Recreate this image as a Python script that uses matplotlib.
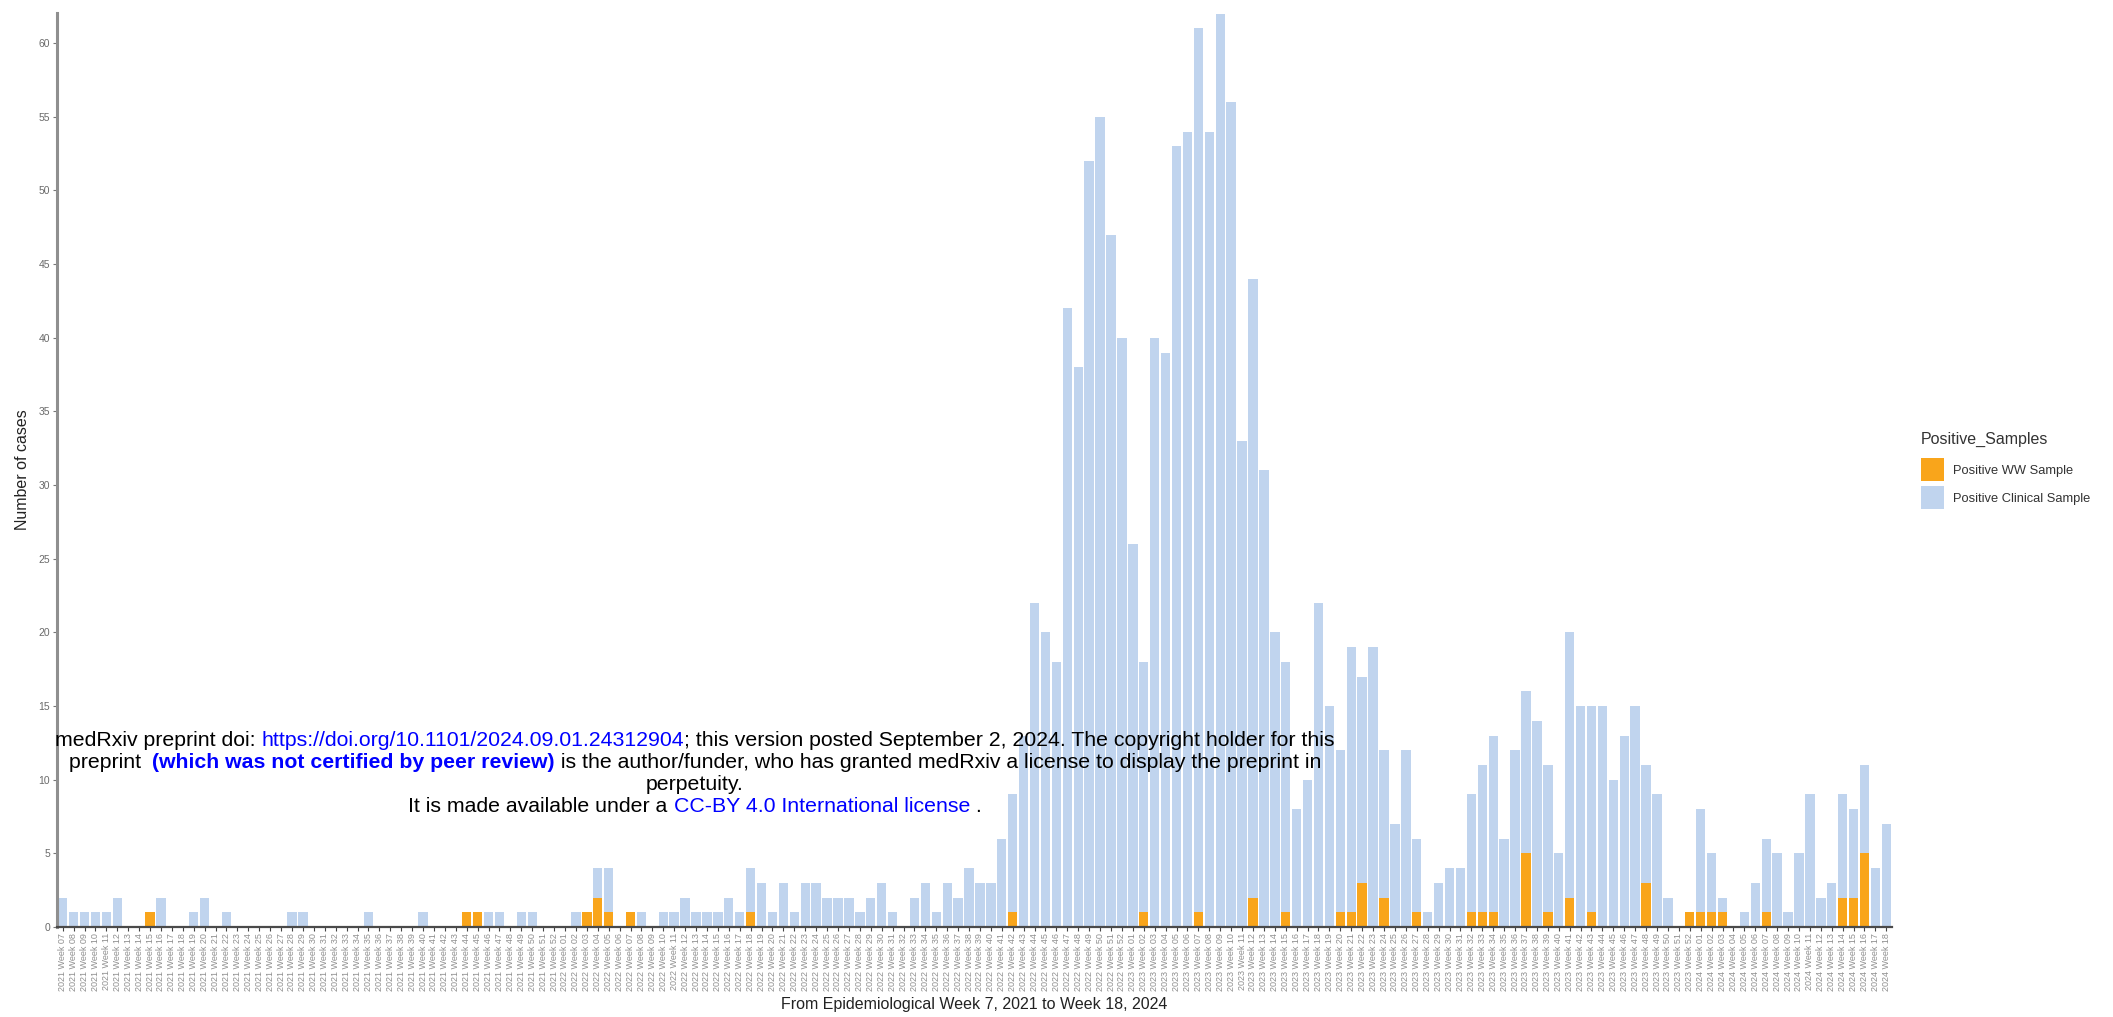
import matplotlib
matplotlib.use("Agg")
import matplotlib.pyplot as plt
from matplotlib.patches import Patch
from matplotlib.offsetbox import TextArea, HPacker, AnnotationBbox

plt.rcParams['font.family'] = ['Liberation Sans', 'DejaVu Sans']

# ---------------- data ----------------
years = [2021] * 46 + [2022] * 52 + [2023] * 52 + [2024] * 18
weeks = list(range(7, 53)) + list(range(1, 53)) + list(range(1, 53)) + list(range(1, 19))
week_labels = [f"{y} Week {w:02d}" for y, w in zip(years, weeks)]

ww_positive = [
    0, 0, 0, 0, 0, 0, 0, 0, 1, 0,
    0, 0, 0, 0, 0, 0, 0, 0, 0, 0,
    0, 0, 0, 0, 0, 0, 0, 0, 0, 0,
    0, 0, 0, 0, 0, 0, 0, 1, 1, 0,
    0, 0, 0, 0, 0, 0, 0, 0, 1, 2,
    1, 0, 1, 0, 0, 0, 0, 0, 0, 0,
    0, 0, 0, 1, 0, 0, 0, 0, 0, 0,
    0, 0, 0, 0, 0, 0, 0, 0, 0, 0,
    0, 0, 0, 0, 0, 0, 0, 1, 0, 0,
    0, 0, 0, 0, 0, 0, 0, 0, 0, 1,
    0, 0, 0, 0, 1, 0, 0, 0, 0, 2,
    0, 0, 1, 0, 0, 0, 0, 1, 1, 3,
    0, 2, 0, 0, 1, 0, 0, 0, 0, 1,
    1, 1, 0, 0, 5, 0, 1, 0, 2, 0,
    1, 0, 0, 0, 0, 3, 0, 0, 0, 1,
    1, 1, 1, 0, 0, 0, 1, 0, 0, 0,
    0, 0, 0, 2, 2, 5, 0, 0,
]

clinical_positive = [
    2, 1, 1, 1, 1, 2, 0, 0, 0, 2,
    0, 0, 1, 2, 0, 1, 0, 0, 0, 0,
    0, 1, 1, 0, 0, 0, 0, 0, 1, 0,
    0, 0, 0, 1, 0, 0, 0, 0, 0, 1,
    1, 0, 1, 1, 0, 0, 0, 1, 0, 2,
    3, 0, 0, 1, 0, 1, 1, 2, 1, 1,
    1, 2, 1, 3, 3, 1, 3, 1, 3, 3,
    2, 2, 2, 1, 2, 3, 1, 0, 2, 3,
    1, 3, 2, 4, 3, 3, 6, 8, 13, 22,
    20, 18, 42, 38, 52, 55, 47, 40, 26, 17,
    40, 39, 53, 54, 60, 54, 62, 56, 33, 42,
    31, 20, 17, 8, 10, 22, 15, 11, 18, 14,
    19, 10, 7, 12, 5, 1, 3, 4, 4, 8,
    10, 12, 6, 12, 11, 14, 10, 5, 18, 15,
    14, 15, 10, 13, 15, 8, 9, 2, 0, 0,
    7, 4, 1, 0, 1, 3, 5, 5, 1, 5,
    9, 2, 3, 7, 6, 6, 4, 7,
]

series_names = ["Positive WW Sample", "Positive Clinical Sample"]
y_ticks = list(range(0, 61, 5))

# ---------------- style ----------------
C_WW = "#F9A51B"
C_CLIN = "#C0D4EE"

W, H = 2113, 1017
fig = plt.figure(figsize=(W / 100, H / 100), dpi=100)
ax = fig.add_axes([57.2 / W, 90 / H, 1834.6 / W, 914 / H])

x = list(range(len(week_labels)))
ax.bar(x, ww_positive, width=0.86, color=C_WW, linewidth=0, zorder=2)
ax.bar(x, clinical_positive, bottom=ww_positive, width=0.86, color=C_CLIN, linewidth=0, zorder=2)

ax.set_xlim(-0.5, len(x) - 0.5)
ax.set_ylim(0, 62.05)
ax.set_yticks(y_ticks)
ax.set_yticklabels([str(v) for v in y_ticks], fontsize=7.5, color="#6a6a6a")
ax.set_xticks(x)
ax.set_xticklabels(week_labels, rotation=90, fontsize=6.5, color="#8f8f8f")
ax.tick_params(axis="x", length=3, width=0.8, color="#444444", pad=1.5)
ax.tick_params(axis="y", length=3, width=0.8, color="#777777", pad=2)

for s in ("top", "right"):
    ax.spines[s].set_visible(False)
ax.spines["left"].set_color("#8f8f8f")
ax.spines["left"].set_linewidth(2.2)
ax.spines["bottom"].set_color("#4a4a4a")
ax.spines["bottom"].set_linewidth(1.6)
ax.set_facecolor("white")

ax.set_ylabel("Number of cases", fontsize=11.5, color="#222222")
ax.yaxis.set_label_coords((30 - 57.2) / 1834.6, 0.5)
ax.set_xlabel("From Epidemiological Week 7, 2021 to Week 18, 2024", fontsize=11.5, color="#222222")
ax.xaxis.set_label_coords(0.5, (927 - 997) / 914)

handles = [Patch(facecolor=C_WW, edgecolor="none"), Patch(facecolor=C_CLIN, edgecolor="none")]
leg = fig.legend(handles, series_names, title="Positive_Samples", loc="upper left",
                 bbox_to_anchor=(1921 / W, 1 - 432 / H), bbox_transform=fig.transFigure,
                 frameon=False, fontsize=9.3, title_fontsize=11.5, handlelength=1.8,
                 handleheight=2.37, handletextpad=0.7, labelspacing=0.38, borderpad=0,
                 borderaxespad=0, alignment="left")
leg._legend_box.sep = 8
for t in leg.get_texts():
    t.set_color("#333333")
leg.get_title().set_color("#333333")

# ---------------- medRxiv watermark ----------------
BLUE = "#0000FF"
FS = 15.3


def wm_line(parts, ypix):
    kids = [TextArea(t, textprops=dict(color=c, fontsize=FS, fontweight=wt,
                                        family=["Liberation Sans", "DejaVu Sans"]))
            for t, c, wt in parts]
    box = HPacker(children=kids, align="baseline", pad=0, sep=0)
    ab = AnnotationBbox(box, (695 / W, 1 - ypix / H), xycoords="figure fraction",
                        frameon=False, box_alignment=(0.5, 0.5), pad=0,
                        annotation_clip=False, zorder=10)
    fig.add_artist(ab)


wm_line([("medRxiv preprint doi: ", "black", "normal"),
         ("https://doi.org/10.1101/2024.09.01.24312904", BLUE, "normal"),
         ("; this version posted September 2, 2024. The copyright holder for this", "black", "normal")], 741)
wm_line([("preprint  ", "black", "normal"),
         ("(which was not certified by peer review)", BLUE, "bold"),
         (" is the author/funder, who has granted medRxiv a license to display the preprint in", "black", "normal")], 763)
wm_line([("perpetuity.", "black", "normal")], 785)
wm_line([("It is made available under a ", "black", "normal"),
         ("CC-BY 4.0 International license", BLUE, "normal"),
         (" .", "black", "normal")], 807)

fig.savefig("out.png", dpi=100, facecolor="white")
